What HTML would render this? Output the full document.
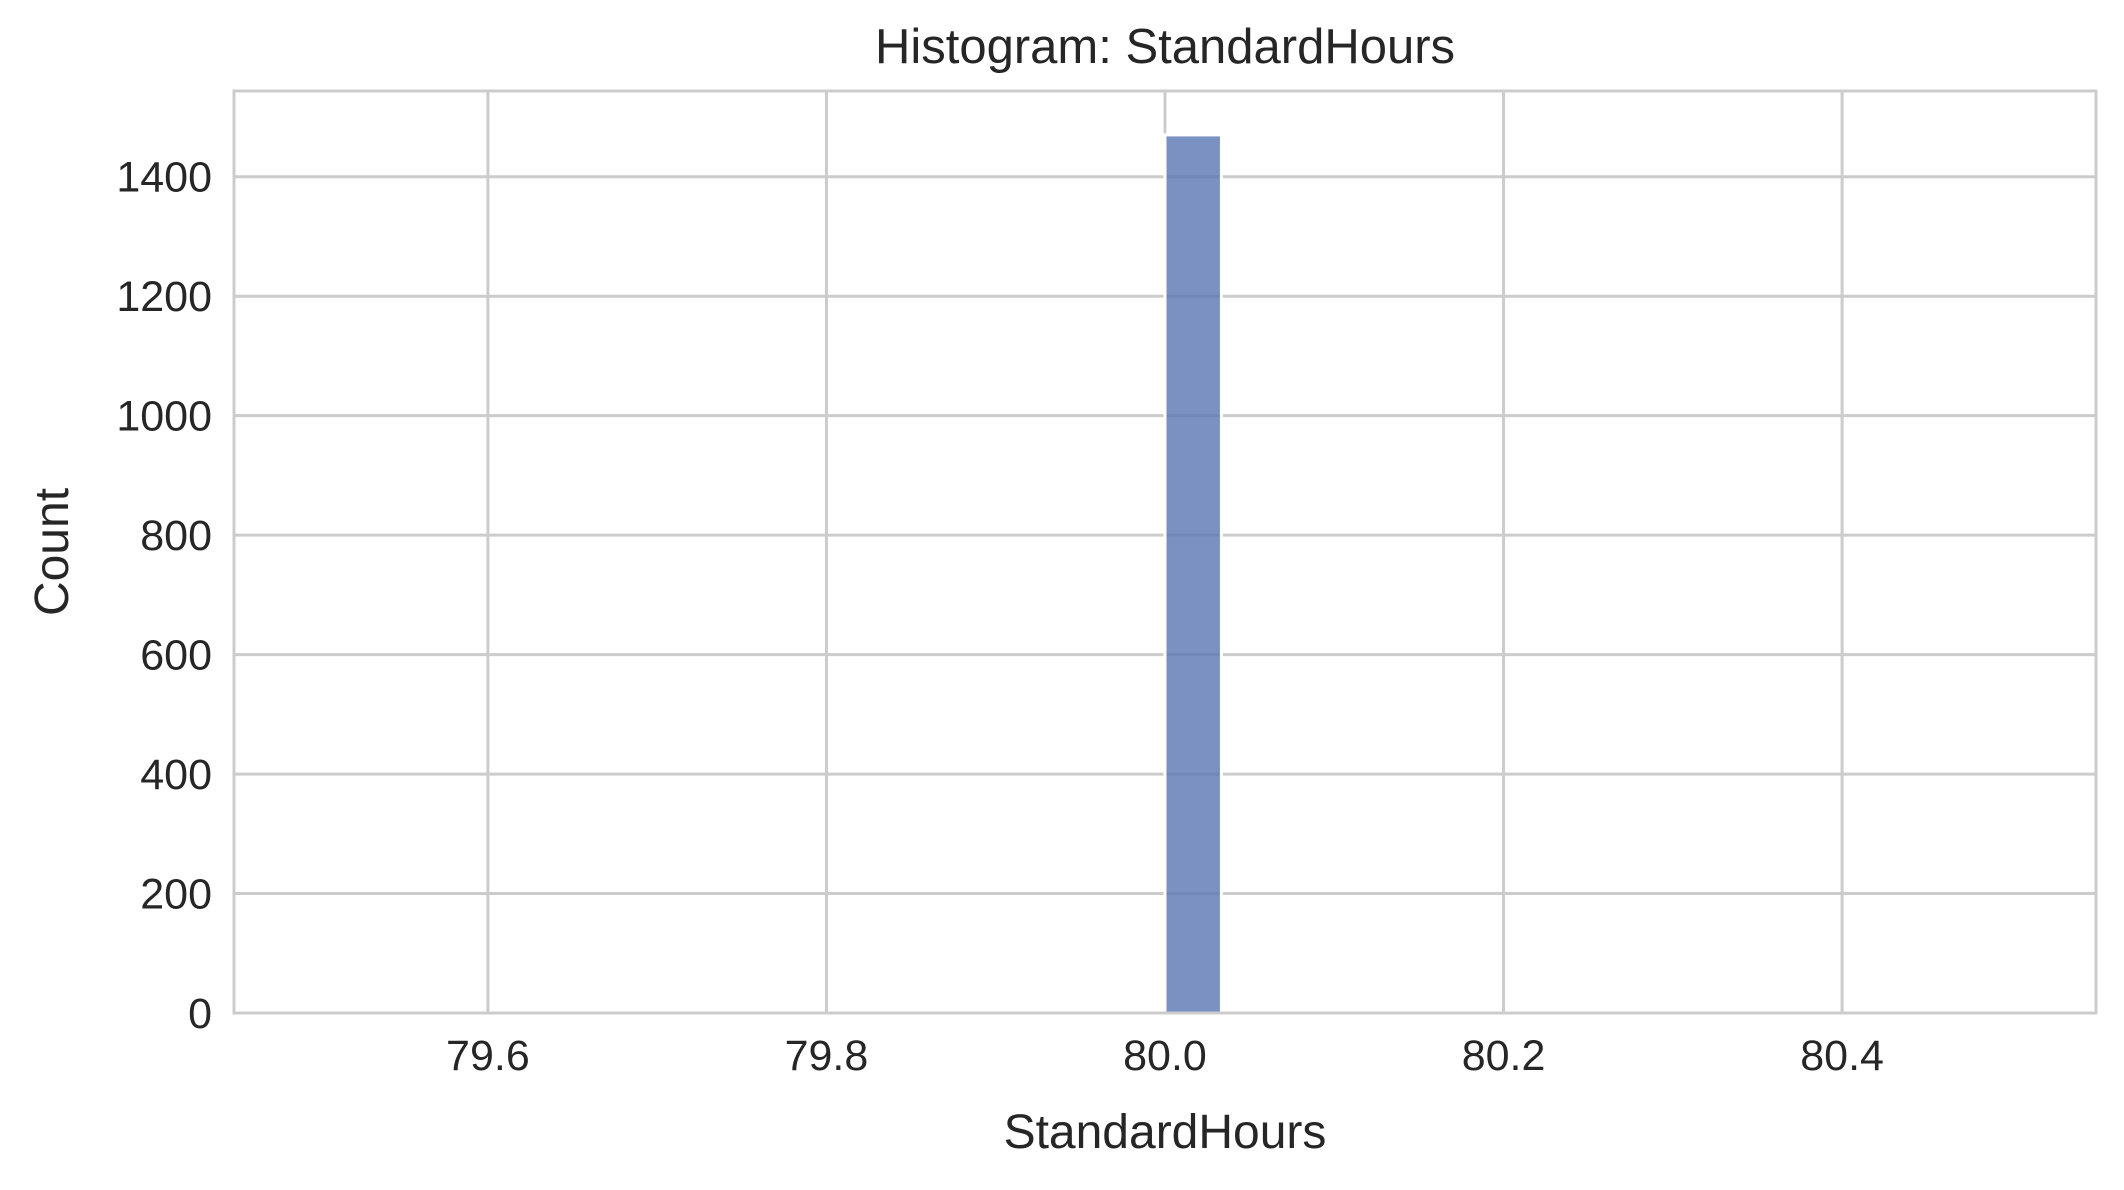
<!DOCTYPE html>
<html><head><meta charset="utf-8"><style>
html,body{margin:0;padding:0;background:#fff;}
svg{display:block;font-family:"Liberation Sans",Arial,sans-serif;}
</style></head><body>
<svg id="chart" width="2124" height="1190" viewBox="0 0 2124 1190">
<g id="grid"></g>
<g id="bars"></g>
<rect x="234" y="91" width="1862" height="922" fill="none" stroke="#cccccc" stroke-width="3"/>
<g id="xticks"></g>
<g id="yticks"></g>
<text x="1165" y="63" text-anchor="middle" font-size="49" fill="#262626">Histogram: StandardHours</text>
<text x="1165" y="1148" text-anchor="middle" font-size="48" fill="#262626">StandardHours</text>
<text transform="translate(68,552) rotate(-90)" text-anchor="middle" font-size="48" fill="#262626">Count</text>
</svg>
<script>
const binStarts = [80.0];
const binWidth = 1/30;
const counts = [1470];
const xTicks = [79.6, 79.8, 80.0, 80.2, 80.4];
const xTickLabels = ["79.6","79.8","80.0","80.2","80.4"];
const yTicks = [0,200,400,600,800,1000,1200,1400];

const L=234,R=2096,T=91,B=1013;
const xmin=79.45,xmax=80.55,ymax=1543.5;
const xs=v=>L+(v-xmin)/(xmax-xmin)*(R-L);
const ys=v=>B-v/ymax*(B-T);
const NS="http://www.w3.org/2000/svg";
const grid=document.getElementById('grid'),bars=document.getElementById('bars');
const xt=document.getElementById('xticks'),yt=document.getElementById('yticks');
xTicks.forEach((t,i)=>{
  const l=document.createElementNS(NS,'line');
  
  
  l.setAttribute('x1',xs(t));l.setAttribute('x2',xs(t));l.setAttribute('y1',T);l.setAttribute('y2',B);
  l.setAttribute('stroke','#cccccc');l.setAttribute('stroke-width','3');
  grid.appendChild(l);
  const tx=document.createElementNS(NS,'text');
  
  
  tx.setAttribute('x',xs(t));tx.setAttribute('y',1070);tx.setAttribute('text-anchor','middle');
  tx.setAttribute('font-size','43');tx.setAttribute('fill','#262626');
  tx.textContent=xTickLabels[i];xt.appendChild(tx);
});
yTicks.forEach(t=>{
  const l=document.createElementNS(NS,'line');
  
  
  l.setAttribute('x1',L);l.setAttribute('x2',R);l.setAttribute('y1',ys(t));l.setAttribute('y2',ys(t));
  l.setAttribute('stroke','#cccccc');l.setAttribute('stroke-width','3');
  grid.appendChild(l);
  const tx=document.createElementNS(NS,'text');
  
  
  tx.setAttribute('x',L-22);tx.setAttribute('y',ys(t)+15);tx.setAttribute('text-anchor','end');
  tx.setAttribute('font-size','43');tx.setAttribute('fill','#262626');
  tx.textContent=String(t);yt.appendChild(tx);
});
binStarts.forEach((b,i)=>{
  const r=document.createElementNS(NS,'rect');
  
  
  const x0=xs(b),x1=xs(b+binWidth);
  r.setAttribute('x',x0);r.setAttribute('width',x1-x0);
  r.setAttribute('y',ys(counts[i]));r.setAttribute('height',ys(0)-ys(counts[i]));
  r.setAttribute('fill','#5975b3');r.setAttribute('fill-opacity','0.8');
  r.setAttribute('stroke','#ffffff');r.setAttribute('stroke-width','3');
  bars.appendChild(r);
});
</script>
</body></html>
